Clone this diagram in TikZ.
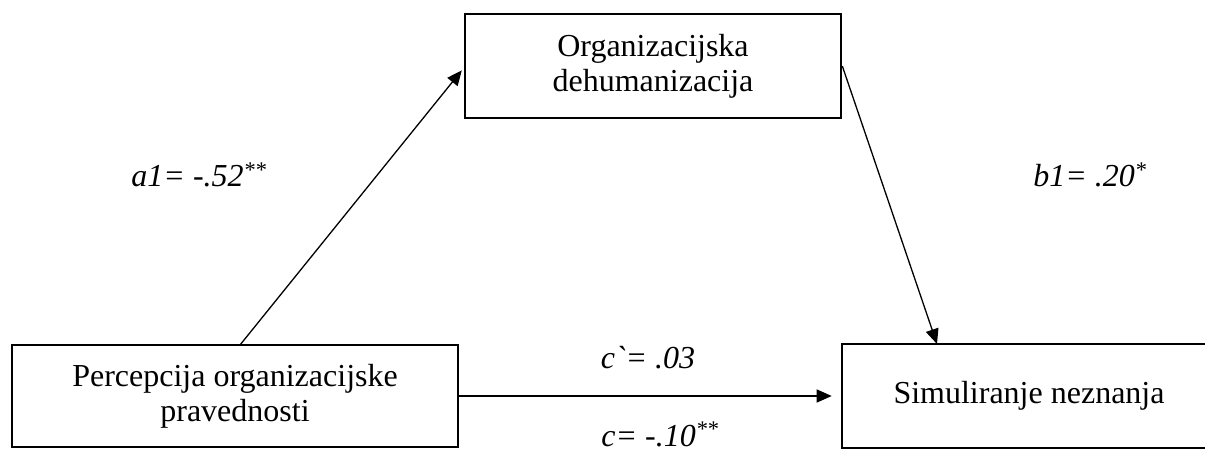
\documentclass[tikz,border=0pt]{standalone}
\usepackage{fontspec}
\setmainfont{Liberation Serif}
\newfontfamily\labfont{Liberation Serif}
\usetikzlibrary{arrows.meta}
\begin{document}
\begin{tikzpicture}[x=1pt,y=-1pt,
  box/.style={draw, line width=2.6pt, inner sep=0pt, align=center,
    font=\fontsize{32}{35}\selectfont},
  conn/.style={line width=1.3pt, -{Triangle[length=15pt,width=13pt]}},
  lab/.style={inner sep=0pt, anchor=base, font=\fontsize{32}{35}\labfont\itshape}]
\useasboundingbox (0,0) rectangle (1205,454);
\clip (0,0) rectangle (1205,454);
\node[box, minimum width=376pt, minimum height=104pt] (tb) at (653,66) {Organizacijska\\dehumanizacija};
\node[box, minimum width=446pt, minimum height=102pt] (lb) at (235,396) {Percepcija organizacijske\\pravednosti};
\node[box, minimum width=374pt, minimum height=104pt] (rb) at (1029,396) {Simuliranje neznanja};
\coordinate (as) at (240,345);
\coordinate (be) at (937,344);
\draw[conn, shorten >=3pt] (as) -- (tb.west |- 0,68);
\draw[conn] (tb.east) -- (be);
\draw[conn, shorten >=9pt] (lb.east) -- (rb.west);
\node[lab] (la) at (199,187) {a1= -.52\textsuperscript{**}};
\node[lab] (lb1) at (1090,187) {b1= .20\textsuperscript{*}};
\node[lab] (lc1) at (648,368) {c`= .03};
\node[lab] (lc) at (660,446) {c= -.10\textsuperscript{**}};
\end{tikzpicture}
\end{document}
